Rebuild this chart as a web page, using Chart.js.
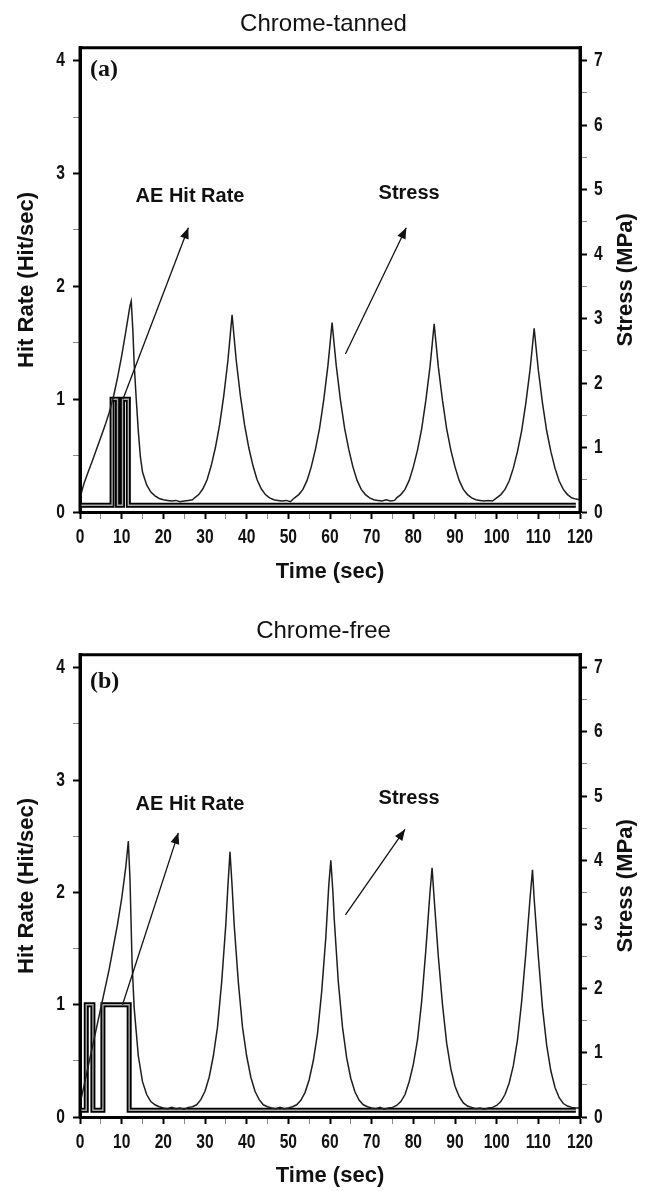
<!DOCTYPE html>
<html>
<head>
<meta charset="utf-8">
<script src="https://cdn.jsdelivr.net/npm/chart.js@4.4.0/dist/chart.umd.min.js"></script>
<style>
  html, body { margin: 0; padding: 0; background: #fff; }
  .wrap { position: absolute; left: 0; width: 647px; }
  #wa { top: 0; height: 595px; }
  #wb { top: 595px; height: 596px; }
</style>
</head>
<body>
<div class="wrap" id="wa"><canvas id="chartA"></canvas></div>
<div class="wrap" id="wb"><canvas id="chartB"></canvas></div>
<script>
// ---- (a) Chrome-tanned : stress in MPa, hit rate in hit/sec ----
var stressTimeA = [0,0.5,1,2,3,4,5,6,7,8,9,10,11,12,12.3,12.7,13,13.5,14,14.5,15,16,17,18,19,20,21,22,23,24,25,26,27,
  27.5,28.5,29.5,30.5,31.5,32.5,33.5,34.5,35.5,36,36.5,37,37.5,38.5,39.5,40.5,41.5,42.5,43.5,44.5,45.5,46.5,47.5,48.5,49.5,50.5,
  51.5,52.5,53.5,54.5,55.5,56.5,57.5,58.5,59.5,60,60.5,61,61.5,62.5,63.5,64.5,65.5,66.5,67.5,68.5,69.5,70.5,71.5,72.5,73.5,74.5,75.5,
  76,77,78,79,80,81,82,83,84,84.5,85,85.5,86,87,88,89,90,91,92,93,94,95,96,97,98,99,
  100,101,102,103,104,105,106,107,108,108.5,109,109.5,110,111,112,113,114,115,116,117,118,119,120];
var stressA = [0.2,0.34,0.45,0.63,0.8,0.98,1.16,1.34,1.54,1.78,2.08,2.42,2.8,3.2,3.27,2.8,2.3,1.75,1.25,0.85,0.62,0.42,0.31,0.25,0.21,0.19,0.18,0.17,0.18,0.16,0.17,0.18,0.19,
  0.22,0.27,0.36,0.5,0.72,1.0,1.35,1.8,2.35,2.7,3.06,2.7,2.35,1.8,1.35,1.0,0.72,0.5,0.36,0.27,0.22,0.19,0.18,0.17,0.18,0.16,
  0.22,0.27,0.35,0.49,0.7,0.97,1.3,1.74,2.27,2.6,2.94,2.6,2.27,1.74,1.3,0.97,0.7,0.49,0.35,0.27,0.22,0.19,0.18,0.17,0.19,0.17,0.18,
  0.22,0.27,0.35,0.49,0.7,0.96,1.29,1.73,2.25,2.58,2.92,2.58,2.25,1.73,1.29,0.96,0.7,0.49,0.35,0.27,0.22,0.19,0.18,0.17,0.18,0.17,
  0.22,0.27,0.35,0.48,0.68,0.94,1.26,1.69,2.2,2.52,2.85,2.52,2.2,1.69,1.26,0.94,0.68,0.48,0.35,0.27,0.22,0.2,0.19];
var hitTimeA = [0, 7.7, 9.0, 10.2, 11.6, 119];
var hitA = [0.06, 1, 0.06, 1, 0.06, 0.06];

// ---- (b) Chrome-free ----
var stressTimeB = [0,1,2,3,4,5,6,7,8,9,10,11,11.6,12,12.5,13,14,15,16,17,18,19,20,21,22,23,24,25,26,27,28,29,30,
  31,32,33,34,35,35.5,36,36.5,37,38,39,40,41,42,43,44,45,46,47,48,49,50,51,52,53,54,55,56,57,58,59,59.7,60.2,60.7,61,62,63,64,65,66,67,68,69,70,
  71,72,73,74,75,76,77,78,79,80,81,82,83,84,84.5,85,86,87,88,89,90,91,92,93,94,95,96,97,98,99,100,101,102,103,104,105,106,107,108,108.6,109,110,
  111,112,113,114,115,116,117,118,119,120];
var stressB = [0.2,0.5,0.8,1.1,1.4,1.7,2.0,2.3,2.65,3.0,3.4,3.9,4.3,3.7,2.4,1.7,0.95,0.55,0.35,0.24,0.19,0.16,0.14,0.13,0.15,0.13,0.14,0.12,0.15,0.16,0.19,0.27,0.4,
  0.62,0.95,1.4,2.1,3.0,3.6,4.13,3.6,3.0,2.1,1.4,0.95,0.62,0.4,0.27,0.19,0.16,0.14,0.13,0.15,0.13,0.14,0.16,0.19,0.26,0.38,0.58,0.88,1.3,1.95,2.8,3.6,4.0,3.5,3.1,2.1,1.4,0.92,0.6,0.39,0.26,0.19,0.16,0.14,
  0.13,0.15,0.12,0.14,0.15,0.18,0.24,0.35,0.55,0.82,1.2,1.8,2.6,3.5,3.88,3.4,2.5,1.75,1.15,0.75,0.48,0.32,0.22,0.17,0.15,0.13,0.14,0.12,0.14,0.15,0.18,0.24,0.35,0.53,0.8,1.2,1.8,2.55,3.4,3.85,3.4,2.5,
  1.7,1.12,0.72,0.46,0.3,0.21,0.17,0.15,0.14,0.14];
var hitTimeB = [0, 1.5, 3.1, 5.5, 11.8, 119];
var hitB = [0.06, 1, 0.06, 1, 0.06, 0.06];

var timeLabels = [0,10,20,30,40,50,60,70,80,90,100,110,120];
var hitLabels = [0,1,2,3,4];
var stressLabels = [0,1,2,3,4,5,6,7];

function pts(xs, ys) {
  return xs.map(function (x, i) { return {x: x, y: ys[i]}; });
}
function isWhole(v) { return Math.abs(v - Math.round(v)) < 1e-6; }

var labFont = {family: "'Liberation Sans', Arial, sans-serif", size: 22, weight: 'bold'};
var NARROW = 0.78;

// narrow tick labels, frame, right-hand title, panel letter and arrow notes
var extras = {
  id: 'extras',
  afterDraw: function (chart) {
    var c = chart.ctx, a = chart.chartArea, o = chart.options.plugins.extras;
    var sx = chart.scales.x, sy = chart.scales.y, sy2 = chart.scales.y2;
    c.save();
    c.strokeStyle = '#000';
    c.lineWidth = 3;
    c.beginPath();
    c.moveTo(a.left, a.bottom); c.lineTo(a.left, a.top); c.lineTo(a.right, a.top); c.lineTo(a.right, a.bottom);
    c.stroke();

    c.fillStyle = '#111';
    c.font = 'bold 20px "Liberation Sans", Arial, sans-serif';
    function narrowText(t, x, y, align) {
      c.save();
      c.translate(x, y);
      c.scale(NARROW, 1);
      c.textAlign = align;
      c.textBaseline = 'middle';
      c.fillText(String(t), 0, 0);
      c.restore();
    }
    timeLabels.forEach(function (v) { narrowText(v, sx.getPixelForValue(v), a.bottom + 25, 'center'); });
    hitLabels.forEach(function (v) { narrowText(v, a.left - 15, sy.getPixelForValue(v), 'right'); });
    stressLabels.forEach(function (v) { narrowText(v, a.right + 14, sy2.getPixelForValue(v), 'left'); });

    c.font = 'bold 22px "Liberation Sans", Arial, sans-serif';
    c.textAlign = 'center';
    c.textBaseline = 'middle';
    c.save();
    c.translate(626, (a.top + a.bottom) / 2);
    c.rotate(-Math.PI / 2);
    c.fillText('Stress (MPa)', 0, 0);
    c.restore();

    c.font = 'bold 24px "Liberation Serif", "Times New Roman", serif';
    c.textAlign = 'left';
    c.fillText(o.panel, a.left + 10, a.top + o.panelDy);

    c.font = 'bold 20px "Liberation Sans", Arial, sans-serif';
    c.textAlign = 'center';
    o.notes.forEach(function (n) {
      c.fillText(n.text, sx.getPixelForValue(n.tx), sy.getPixelForValue(n.ty));
      var x0 = sx.getPixelForValue(n.from[0]), y0 = sy.getPixelForValue(n.from[1]);
      var x1 = sx.getPixelForValue(n.to[0]), y1 = sy.getPixelForValue(n.to[1]);
      c.strokeStyle = '#111';
      c.lineWidth = 1.3;
      c.beginPath(); c.moveTo(x0, y0); c.lineTo(x1, y1); c.stroke();
      var ang = Math.atan2(y1 - y0, x1 - x0), L = 11, W = 4.5;
      c.beginPath();
      c.moveTo(x1, y1);
      c.lineTo(x1 - L * Math.cos(ang) + W * Math.sin(ang), y1 - L * Math.sin(ang) - W * Math.cos(ang));
      c.lineTo(x1 - L * Math.cos(ang) - W * Math.sin(ang), y1 - L * Math.sin(ang) + W * Math.cos(ang));
      c.closePath();
      c.fill();
    });
    c.restore();
  }
};

function axisGrid(major) {
  return {
    drawOnChartArea: false,
    tickLength: 7,
    tickColor: function (c) { return c.tick && major(c.tick.value) ? '#000' : '#888'; },
    tickWidth: function (c) { return c.tick && major(c.tick.value) ? 2 : 1; }
  };
}

function makeChart(id, opt) {
  return new Chart(document.getElementById(id), {
    type: 'line',
    data: {
      datasets: [
        {
          label: 'Stress',
          data: pts(opt.stressTime, opt.stress),
          yAxisID: 'y2',
          borderColor: '#1e1e1e',
          borderWidth: 1.5,
          pointRadius: 0,
          tension: 0,
          order: 0
        },
        {
          label: 'AE Hit Rate inner',
          data: pts(opt.hitTime, opt.hit),
          yAxisID: 'y',
          stepped: true,
          borderColor: '#a8a8a8',
          borderWidth: 1.4,
          pointRadius: 0,
          order: 1
        },
        {
          label: 'AE Hit Rate',
          data: pts(opt.hitTime, opt.hit),
          yAxisID: 'y',
          stepped: true,
          borderColor: '#000',
          borderWidth: 5,
          pointRadius: 0,
          order: 2
        }
      ]
    },
    options: {
      responsive: true,
      maintainAspectRatio: false,
      animation: false,
      layout: {padding: 0},
      scales: {
        x: {
          type: 'linear',
          min: 0,
          max: 120,
          afterFit: function (s) { s.height = opt.xHeight; },
          ticks: {stepSize: 5, autoSkip: false, maxRotation: 0, callback: function () { return ''; }},
          grid: axisGrid(function (v) { return v % 10 === 0; }),
          border: {color: '#000', width: 3},
          title: {display: true, text: 'Time (sec)', color: '#111', font: labFont, padding: {top: 0, bottom: opt.xTitlePad}}
        },
        y: {
          position: 'left',
          min: 0,
          max: 4.115,
          afterFit: function (s) { s.width = 80; },
          ticks: {stepSize: 0.5, includeBounds: false, autoSkip: false, callback: function () { return ''; }},
          grid: axisGrid(isWhole),
          border: {color: '#000', width: 3},
          title: {display: true, text: 'Hit Rate (Hit/sec)', color: '#111', font: labFont, padding: {top: 14, bottom: 0}}
        },
        y2: {
          position: 'right',
          min: 0,
          max: 7.2,
          afterFit: function (s) { s.width = 67; },
          ticks: {stepSize: 0.5, includeBounds: false, autoSkip: false, callback: function () { return ''; }},
          grid: axisGrid(isWhole),
          border: {color: '#000', width: 3}
        }
      },
      plugins: {
        legend: {display: false},
        tooltip: {enabled: false},
        title: {
          display: true,
          text: opt.title,
          color: '#111',
          font: {family: "'Liberation Sans', Arial, sans-serif", size: 24, weight: 'normal'},
          padding: {top: opt.titleTop, bottom: opt.titleBottom}
        },
        extras: {panel: opt.panel, panelDy: opt.panelDy, notes: opt.notes}
      }
    },
    plugins: [extras]
  });
}

var chartA = makeChart('chartA', {
  title: 'Chrome-tanned', panel: '(a)', panelDy: 22,
  stressTime: stressTimeA, stress: stressA, hitTime: hitTimeA, hit: hitA,
  titleTop: 10, titleBottom: 9, xHeight: 83, xTitlePad: 10,
  notes: [
    {text: 'AE Hit Rate', tx: 26.4, ty: 2.8, from: [10.3, 1.0], to: [26, 2.52]},
    {text: 'Stress', tx: 79, ty: 2.82, from: [63.7, 1.4], to: [78.3, 2.52]}
  ]
});

var chartB = makeChart('chartB', {
  title: 'Chrome-free', panel: '(b)', panelDy: 27,
  stressTime: stressTimeB, stress: stressB, hitTime: hitTimeB, hit: hitB,
  titleTop: 22, titleBottom: 9, xHeight: 74, xTitlePad: 2,
  notes: [
    {text: 'AE Hit Rate', tx: 26.4, ty: 2.78, from: [10.2, 1.0], to: [23.6, 2.53]},
    {text: 'Stress', tx: 79, ty: 2.84, from: [63.7, 1.8], to: [78, 2.56]}
  ]
});
</script>
</body>
</html>
